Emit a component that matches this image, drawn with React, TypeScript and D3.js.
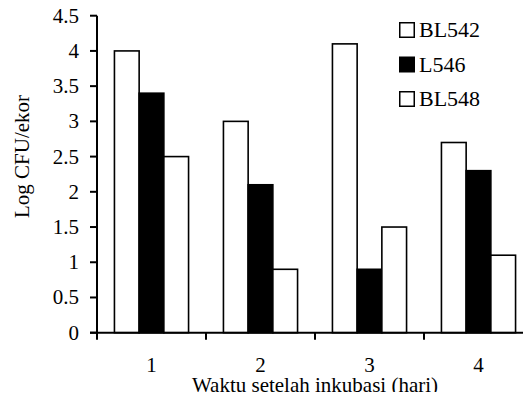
import * as d3 from "d3";

const days = ["1", "2", "3", "4"];
const seriesNames = ["BL542", "L546", "BL548"];
const bl542 = [4.0, 3.0, 4.1, 2.7];
const l546 = [3.4, 2.1, 0.9, 2.3];
const bl548 = [2.5, 0.9, 1.5, 1.1];
const yTicks = [0, 0.5, 1, 1.5, 2, 2.5, 3, 3.5, 4, 4.5];
const fills = ["#ffffff", "#000000", "#ffffff"];

const W = 531;
const H = 400;
const font = "Liberation Serif";

export default function App() {
  const left = 97;
  const right = 533;
  const top = 15.7;
  const bottom = 332.7;

  const values = [bl542, l546, bl548];

  const x0 = d3.scaleBand<string>().domain(days).range([left, right]).paddingInner(0.32).paddingOuter(0.16);
  const x1 = d3.scaleBand<string>().domain(seriesNames).range([0, x0.bandwidth()]);
  const y = d3.scaleLinear().domain([0, 4.5]).range([bottom, top]);
  const step = x0.step();
  const xTickPos = d3.range(days.length + 1).map((i) => left + i * step);

  return (
    <div style={{ margin: -8, width: W, height: H }}>
      <svg width={W} height={H} style={{ display: "block" }}>
        <rect width={W} height={H} fill="#fff" />
        {/* bars */}
        {days.map((d, i) => (
          <g key={d} transform={`translate(${x0(d)},0)`}>
            {seriesNames.map((s, j) => (
              <rect
                key={s}
                x={x1(s)}
                y={y(values[j][i])}
                width={x1.bandwidth()}
                height={y(0) - y(values[j][i])}
                fill={fills[j]}
                stroke="#000"
                strokeWidth={1.6}
              />
            ))}
          </g>
        ))}
        {/* y axis */}
        <line x1={left} x2={left} y1={top} y2={bottom} stroke="#000" strokeWidth={2} />
        {yTicks.map((t) => (
          <g key={t}>
            <line x1={left - 7} x2={left} y1={y(t)} y2={y(t)} stroke="#000" strokeWidth={2} />
            <text x={79} y={y(t)} dy="0.33em" textAnchor="end" fontSize={21} fontFamily={font}>
              {t}
            </text>
          </g>
        ))}
        {/* x axis */}
        <line x1={left - 7} x2={W} y1={bottom} y2={bottom} stroke="#000" strokeWidth={2} />
        {xTickPos.map((p, i) => (
          <line key={i} x1={p} x2={p} y1={bottom} y2={bottom + 7} stroke="#000" strokeWidth={2} />
        ))}
        {days.map((d) => (
          <text key={d} x={(x0(d) as number) + x0.bandwidth() / 2} y={371.5} textAnchor="middle" fontSize={21} fontFamily={font}>
            {d}
          </text>
        ))}
        <text x={(left + right) / 2} y={391.5} textAnchor="middle" fontSize={21} fontFamily={font}>
          Waktu setelah inkubasi (hari)
        </text>
        <text transform={`translate(29,156.5) rotate(-90)`} textAnchor="middle" fontSize={21} fontFamily={font}>
          Log CFU/ekor
        </text>
        {/* legend */}
        {seriesNames.map((s, j) => (
          <g key={s} transform={`translate(399,${22 + j * 34.5})`}>
            <rect x={0.75} y={0.75} width={14.5} height={14.5} fill={fills[j]} stroke="#000" strokeWidth={1.5} />
            <text x={20} y={15.3} fontSize={22} fontFamily={font}>
              {s}
            </text>
          </g>
        ))}
      </svg>
    </div>
  );
}
